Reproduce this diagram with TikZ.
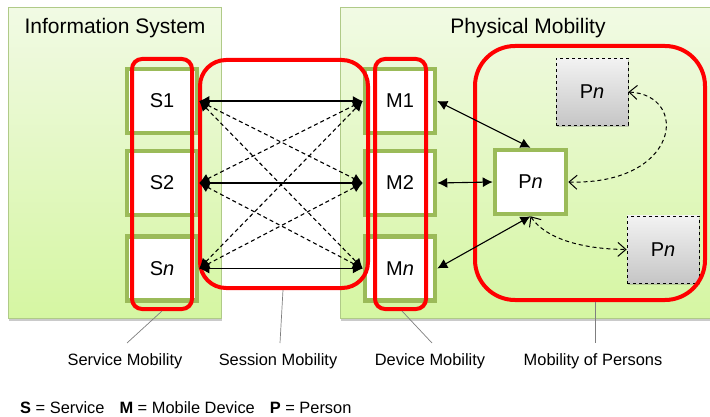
\documentclass[tikz,border=0pt]{standalone}
\usepackage{fontspec}
\setmainfont{Liberation Sans}
\usetikzlibrary{arrows.meta,shadows,calc}

\definecolor{panelTop}{HTML}{F1FAE4}
\definecolor{panelBot}{HTML}{D5F6A2}
\definecolor{panelEdge}{HTML}{B0CA88}
\definecolor{nodeGreen}{HTML}{9BBB59}
\definecolor{markRed}{HTML}{FF0000}
\definecolor{calloutGray}{HTML}{7F7F7F}

\begin{document}
\begin{tikzpicture}[x=1pt,y=-1pt,
  panel/.style={draw=panelEdge, line width=1pt, top color=panelTop, bottom color=panelBot,
    drop shadow={shadow xshift=0.5pt, shadow yshift=-2.5pt, opacity=0.35, fill=black!60}},
  title/.style={font=\fontsize{21}{25}\selectfont, inner sep=0pt},
  gbox/.style={draw=nodeGreen, line width=4.5pt, fill=white, minimum width=70pt,
    minimum height=64pt, inner sep=0pt, font=\fontsize{20}{24}\selectfont},
  pbox/.style={draw=black, dashed, line width=0.8pt, top color=gray!10, bottom color=gray!45,
    minimum width=72pt, minimum height=67pt, inner sep=0pt, font=\fontsize{20}{24}\selectfont,
    drop shadow={shadow xshift=1pt, shadow yshift=-1.5pt, opacity=0.3, fill=black!60}},
  redmark/.style={draw=markRed, line width=4pt},
  link/.style={line width=1.1pt, arrows={Latex[length=10pt,width=10pt]-Latex[length=10pt,width=10pt]}},
  dlink/.style={link, dash pattern=on 4pt off 3pt},
  curv/.style={line width=1pt, dash pattern=on 4pt off 3pt,
    arrows={Straight Barb[length=8pt,width=14pt,line width=1pt]-Straight Barb[length=8pt,width=14pt,line width=1pt]}},
  callout/.style={draw=calloutGray, line width=0.7pt},
  lbl/.style={font=\fontsize{16.4}{20}\selectfont, inner sep=0pt}
]
\useasboundingbox (0,0) rectangle (710,417);

% background panels
\draw[panel] (8,8) rectangle (221,318);
\draw[panel] (340,8) rectangle (722,318);
\node[title] (tIS) at (115,28) {Information System};
\node[title] (tPM) at (528,28) {Physical Mobility};

% services
\node[gbox] (S1) at (162,101) {S1};
\node[gbox] (S2) at (162,183) {S2};
\node[gbox] (Sn) at (162,268.5) {S\textit{n}};

% mobile devices
\node[gbox] (M1) at (400,101) {M1};
\node[gbox] (M2) at (400,183) {M2};
\node[gbox] (Mn) at (400,268.5) {M\textit{n}};

% persons
\node[gbox, minimum width=71pt] (P) at (530.5,182) {P\textit{n}};
\node[pbox] (Ptop) at (592,92) {P\textit{n}};
\node[pbox] (Pbot) at (663,249.5) {P\textit{n}};

% red groupings
\draw[redmark, rounded corners=10pt] (132,59) rectangle (192,309);
\draw[redmark, rounded corners=26pt] (200,60) rectangle (368,288);
\draw[redmark, rounded corners=10pt] (375,59) rectangle (426,309);
\draw[redmark, rounded corners=40pt] (475,46) rectangle (705,300);

% session links
\draw[link] (S1.east) -- (M1.west);
\draw[link] (S2.east) -- (M2.west);
\draw[link] (Sn.east) -- (Mn.west);
\draw[dlink] (S1.east) -- (M2.west);
\draw[dlink] (S1.east) -- (Mn.west);
\draw[dlink] (S2.east) -- (M1.west);
\draw[dlink] (S2.east) -- (Mn.west);
\draw[dlink] (Sn.east) -- (M1.west);
\draw[dlink] (Sn.east) -- (M2.west);

% device to person links
\draw[link] (M1.east) -- (P.north);
\draw[link] (M2.east) -- (P.west);
\draw[link] (Mn.east) -- (P.south);

% person to person links
\draw[curv] (P.east) .. controls (680,185) and (690,95) .. (Ptop.east);
\draw[curv] (P.south) .. controls (545,238) and (580,249) .. (Pbot.west);

% callouts
\coordinate (cS) at (162,311);
\coordinate (cSe) at (127,343);
\coordinate (cX) at (283,290);
\coordinate (cXe) at (280,343);
\coordinate (cD) at (402,311);
\coordinate (cDe) at (432,343);
\coordinate (cP) at (595,302);
\coordinate (cPe) at (595,343);
\draw[callout] (cS) -- (cSe);
\draw[callout] (cX) -- (cXe);
\draw[callout] (cD) -- (cDe);
\draw[callout] (cP) -- (cPe);

\node[lbl] (lS) at (125,361) {Service Mobility};
\node[lbl] (lX) at (278,361) {Session Mobility};
\node[lbl] (lD) at (430,361) {Device Mobility};
\node[lbl] (lP) at (593,361) {Mobility of Persons};

% legend
\node[lbl, anchor=west] (legend) at (20,408)
  {\textbf{S} = Service\hspace{15pt}\textbf{M} = Mobile Device\hspace{15pt}\textbf{P} = Person};
\end{tikzpicture}
\end{document}
